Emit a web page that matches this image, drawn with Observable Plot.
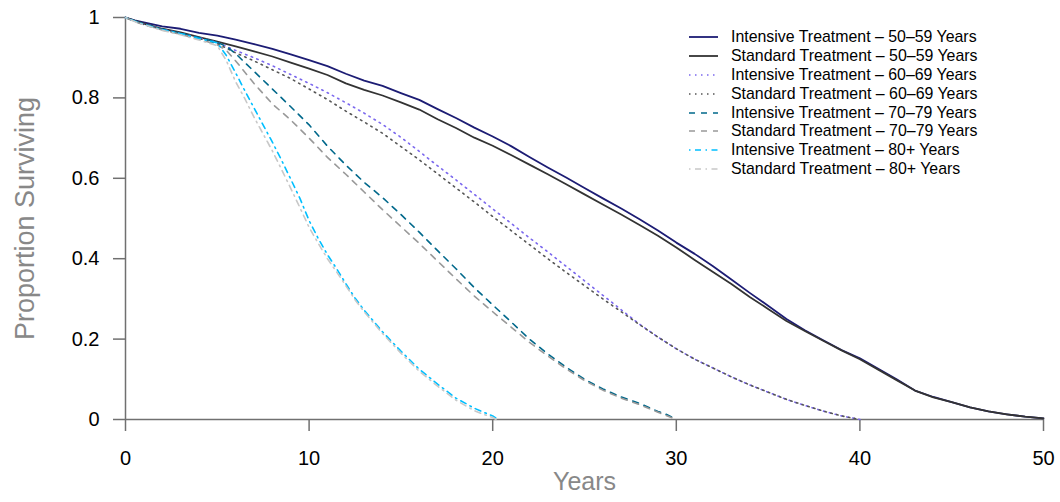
<!DOCTYPE html>
<html><head><meta charset="utf-8">
<script src="https://cdn.jsdelivr.net/npm/d3@7"></script>
<script src="https://cdn.jsdelivr.net/npm/@observablehq/plot@0.6"></script>
<style>
body{margin:0;background:#fff;font-family:"Liberation Sans",Arial,Helvetica,sans-serif;}
#wrap{position:relative;width:1060px;height:502px;}
#legend{position:absolute;left:689px;top:27.5px;font-size:15.9px;color:#000;}
.row{height:18.9px;display:flex;align-items:center;white-space:nowrap;}
.row svg{margin-right:13px;flex:none;}
</style></head><body><div id="wrap"><div id="legend"></div></div>
<script>
// Series labels and styles
const seriesNames = [
  "Intensive Treatment – 50–59 Years",
  "Standard Treatment – 50–59 Years",
  "Intensive Treatment – 60–69 Years",
  "Standard Treatment – 60–69 Years",
  "Intensive Treatment – 70–79 Years",
  "Standard Treatment – 70–79 Years",
  "Intensive Treatment – 80+ Years",
  "Standard Treatment – 80+ Years"
];
const seriesColors = ["#1c1c74","#333333","#7b68ee","#555555","#00688b","#999999","#00bfff","#c8c8c8"];
const seriesDash = [null,null,"1.5,4.5","1.5,4.5","6,6","6,6","1.5,4.5,6,4.5","1.5,4.5,6,4.5"];

// [years, proportion surviving]
const intensive5059 = [[0,1],[0.5,0.993],[1,0.988],[2,0.978],[3,0.972],[4,0.962],[5,0.955],[6,0.945],[7,0.934],[8,0.922],[9,0.908],[10,0.894],[11,0.879],[12,0.860],[13,0.843],[14,0.830],[15,0.812],[16,0.795],[17,0.772],[18,0.750],[19,0.726],[20,0.704],[21,0.680],[22,0.653],[23,0.627],[24,0.602],[25,0.576],[26,0.550],[27,0.525],[28,0.498],[29,0.470],[30,0.440],[31,0.412],[32,0.381],[33,0.348],[34,0.315],[35,0.283],[36,0.250],[37,0.222],[38,0.197],[39,0.173],[40,0.152],[41,0.126],[42,0.100],[43,0.072],[44,0.056],[45,0.043],[46,0.030],[47,0.020],[48,0.013],[49,0.007],[50,0.003]];
const standard5059 = [[0,1],[0.5,0.992],[1,0.985],[2,0.972],[3,0.963],[4,0.951],[5,0.940],[6,0.928],[7,0.916],[8,0.903],[9,0.888],[10,0.873],[11,0.857],[12,0.836],[13,0.820],[14,0.806],[15,0.789],[16,0.771],[17,0.747],[18,0.725],[19,0.701],[20,0.681],[21,0.658],[22,0.634],[23,0.610],[24,0.585],[25,0.560],[26,0.535],[27,0.510],[28,0.484],[29,0.457],[30,0.428],[31,0.397],[32,0.367],[33,0.337],[34,0.305],[35,0.275],[36,0.245],[37,0.220],[38,0.196],[39,0.172],[40,0.150],[41,0.124],[42,0.098],[43,0.072],[44,0.055],[45,0.043],[46,0.030],[47,0.020],[48,0.013],[49,0.007],[50,0.003]];
const intensive6069 = [[0,1],[0.5,0.991],[1,0.983],[2,0.971],[3,0.961],[4,0.950],[5,0.938],[6,0.918],[7,0.900],[8,0.880],[9,0.858],[10,0.836],[11,0.813],[12,0.788],[13,0.762],[14,0.734],[15,0.702],[16,0.667],[17,0.631],[18,0.596],[19,0.560],[20,0.524],[21,0.488],[22,0.452],[23,0.417],[24,0.381],[25,0.345],[26,0.309],[27,0.273],[28,0.237],[29,0.205],[30,0.176],[31,0.150],[32,0.128],[33,0.106],[34,0.086],[35,0.068],[36,0.050],[37,0.035],[38,0.021],[39,0.009],[40,0]];
const standard6069 = [[0,1],[0.5,0.991],[1,0.983],[2,0.970],[3,0.960],[4,0.948],[5,0.935],[6,0.912],[7,0.892],[8,0.870],[9,0.848],[10,0.822],[11,0.796],[12,0.767],[13,0.740],[14,0.712],[15,0.679],[16,0.646],[17,0.611],[18,0.576],[19,0.541],[20,0.505],[21,0.470],[22,0.435],[23,0.400],[24,0.366],[25,0.333],[26,0.300],[27,0.268],[28,0.236],[29,0.205],[30,0.176],[31,0.150],[32,0.128],[33,0.106],[34,0.086],[35,0.068],[36,0.050],[37,0.035],[38,0.021],[39,0.009],[40,0]];
const intensive7079 = [[0,1],[0.5,0.991],[1,0.983],[2,0.971],[3,0.961],[4,0.950],[5,0.938],[5.5,0.928],[6,0.910],[7,0.866],[8,0.822],[9,0.778],[10,0.733],[11,0.680],[12,0.633],[13,0.590],[14,0.552],[15,0.510],[16,0.466],[17,0.420],[18,0.375],[19,0.328],[20,0.285],[21,0.243],[22,0.200],[23,0.163],[24,0.130],[25,0.100],[26,0.076],[27,0.056],[28,0.040],[29,0.020],[29.5,0.012],[30,0]];
const standard7079 = [[0,1],[0.5,0.990],[1,0.982],[2,0.969],[3,0.958],[4,0.946],[5,0.932],[5.5,0.918],[6,0.892],[7,0.836],[8,0.785],[9,0.745],[10,0.700],[11,0.652],[12,0.610],[13,0.566],[14,0.522],[15,0.480],[16,0.438],[17,0.394],[18,0.350],[19,0.307],[20,0.268],[21,0.230],[22,0.192],[23,0.158],[24,0.126],[25,0.097],[26,0.073],[27,0.053],[28,0.037],[29,0.018],[30,0]];
const intensive80 = [[0,1],[0.5,0.991],[1,0.983],[2,0.970],[3,0.960],[4,0.948],[5,0.937],[5.5,0.905],[6,0.862],[6.5,0.818],[7,0.775],[7.5,0.732],[8,0.690],[8.5,0.645],[9,0.598],[9.5,0.550],[10,0.495],[10.5,0.450],[11,0.410],[11.5,0.375],[12,0.338],[12.5,0.302],[13,0.272],[14,0.218],[15,0.170],[16,0.125],[17,0.088],[18,0.053],[19,0.028],[19.5,0.018],[20,0.009],[20.3,0]];
const standard80 = [[0,1],[0.5,0.990],[1,0.982],[2,0.968],[3,0.957],[4,0.944],[5,0.930],[5.5,0.892],[6,0.840],[6.5,0.798],[7,0.752],[7.5,0.710],[8,0.668],[8.5,0.622],[9,0.575],[9.5,0.527],[10,0.478],[10.5,0.438],[11,0.400],[11.5,0.367],[12,0.333],[12.5,0.298],[13,0.268],[14,0.214],[15,0.165],[16,0.120],[17,0.083],[18,0.048],[19,0.022],[19.5,0.013],[20,0.005],[20.2,0]];

const seriesValues = [intensive5059, standard5059, intensive6069, standard6069, intensive7079, standard7079, intensive80, standard80];
const xTicks = [0,10,20,30,40,50];
const yTicks = [0,0.2,0.4,0.6,0.8,1];
const xTitle = "Years";
const yTitle = "Proportion Surviving";

const rows = seriesNames.flatMap((name,i) => seriesValues[i].map(([t,s]) => ({series:name, t, s})));

const lineMarks = seriesNames.map((name,i) => Plot.line(rows.filter(d => d.series === name), {
  x:"t", y:"s", stroke: seriesColors[i],
  strokeWidth: seriesDash[i] ? 1.6 : 1.8,
  strokeDasharray: seriesDash[i] || undefined
}));

const axisColor = "#707070";
const chart = Plot.plot({
  width:1060, height:502,
  marginLeft:125, marginRight:17, marginTop:17, marginBottom:83,
  style:{fontFamily:'"Liberation Sans",Arial,Helvetica,sans-serif', background:"#fff", color:"#000"},
  x:{domain:[0,50]},
  y:{domain:[0,1]},
  marks:[
    Plot.ruleX([0], {stroke:axisColor, strokeWidth:1.5}),
    Plot.ruleY([0], {stroke:axisColor, strokeWidth:1.5}),
    Plot.axisX({ticks:xTicks, tickSize:12, tickPadding:19, fontSize:20, stroke:axisColor, strokeWidth:1.5, fill:"#000", label:null, tickFormat:d=>String(d)}),
    Plot.axisY({ticks:yTicks, tickSize:12, tickPadding:14, fontSize:20, stroke:axisColor, strokeWidth:1.5, fill:"#000", label:null, tickFormat:d=>String(d)}),
    Plot.text([xTitle], {frameAnchor:"bottom", textAnchor:"middle", dy:70, fontSize:25, fill:"#888"}),
    Plot.text([yTitle], {frameAnchor:"left", textAnchor:"middle", dx:-100, rotate:-90, fontSize:27, fill:"#888"}),
    ...lineMarks
  ]
});
document.getElementById("wrap").prepend(chart);

// Legend
const legend = document.getElementById("legend");
seriesNames.forEach((name,i) => {
  const row = document.createElement("div");
  row.className = "row";
  const dash = seriesDash[i] ? ` stroke-dasharray="${seriesDash[i]}"` : "";
  row.innerHTML = `<svg width="29" height="6"><line x1="0" x2="29" y1="3" y2="3" stroke="${seriesColors[i]}" stroke-width="${seriesDash[i] ? 1.6 : 1.8}"${dash}/></svg><span>${name}</span>`;
  legend.appendChild(row);
});
</script></body></html>
